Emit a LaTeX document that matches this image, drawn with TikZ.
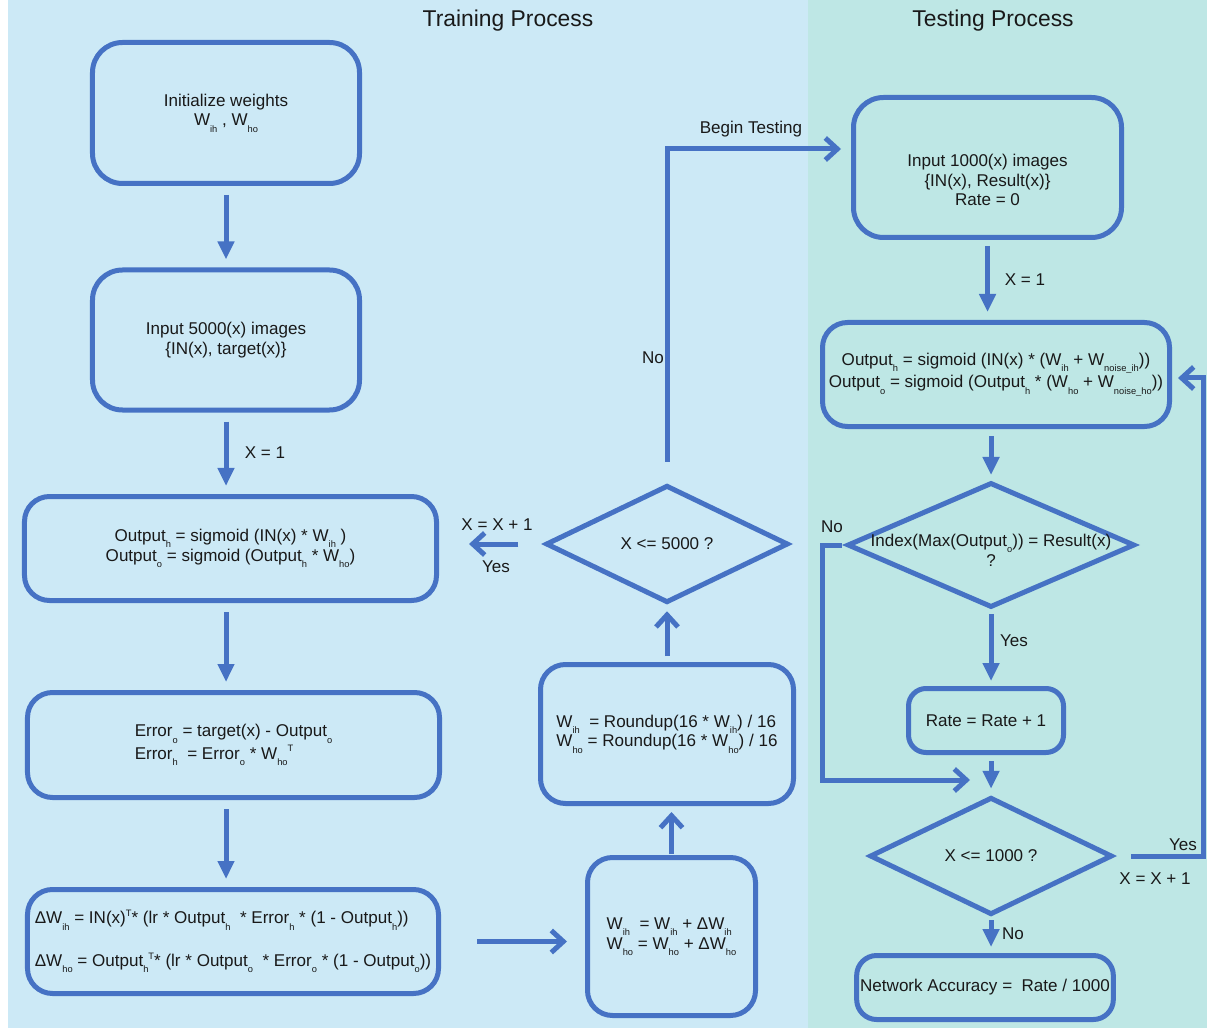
\documentclass[tikz,border=0pt]{standalone}
\usepackage{fontspec}
\setmainfont{Liberation Sans}
\usetikzlibrary{shapes.geometric,arrows.meta,positioning}

\definecolor{trainbg}{RGB}{204,233,246}
\definecolor{testbg}{RGB}{190,231,229}
\definecolor{flowblue}{RGB}{70,114,196}
\definecolor{inktext}{RGB}{25,25,25}

% small lowered / raised indices as printed in the chart
\newcommand{\sbs}[1]{\raisebox{-0.7ex}{\fontsize{5.3}{5.3}\selectfont #1}}
\newcommand{\sps}[1]{\raisebox{0.85ex}{\fontsize{5.3}{5.3}\selectfont #1}}

\tikzset{
  procbox/.style={draw=flowblue, line width=1mm, rounded corners=5mm, align=center,
    text=inktext, font=\fontsize{9.7}{11.3}\selectfont, inner sep=2pt},
  decbox/.style={draw=flowblue, line width=1mm, diamond, inner sep=0pt},
  flowdown/.style={draw=flowblue, line width=1mm, -{Triangle[length=3.6mm,width=3.2mm]}},
  flowbarb/.style={draw=flowblue, line width=1mm, -{Straight Barb[length=2.4mm,width=4.4mm]}},
  flowlabel/.style={text=inktext, font=\fontsize{9.7}{11.3}\selectfont, align=center},
  paneltitle/.style={text=inktext, font=\fontsize{13}{15}\selectfont}
}

\begin{document}
\begin{tikzpicture}[x=0.2mm, y=-0.2mm]
% Canvas and the two panels
\useasboundingbox (0,0) rectangle (1207,1028);
\fill[white] (0,0) rectangle (1207,1028);
\fill[trainbg] (8,0) rectangle (808,1028);
\fill[testbg] (808,0) rectangle (1207,1028);
\node[paneltitle] (traintitle) at (508,21) {Training Process};
\node[paneltitle] (testtitle) at (993,21) {Testing Process};

% Training column
\node[procbox, minimum width=5.34cm, minimum height=2.82cm, rounded corners=6mm] (init) at (226,113)
  {Initialize weights\\ W\sbs{ih} , W\sbs{ho}};
\node[procbox, minimum width=5.34cm, minimum height=2.80cm, rounded corners=6mm] (input) at (226,340)
  {Input 5000(x) images\\ \{IN(x), target(x)\}};
\node[procbox, minimum width=8.24cm, minimum height=2.08cm] (output) at (230.5,548.5)
  {Output\sbs{h} = sigmoid (IN(x) * W\sbs{ih} )\\ Output\sbs{o} = sigmoid (Output\sbs{h} * W\sbs{ho})};
\node[procbox, align=left, minimum width=8.24cm, minimum height=2.10cm] (error) at (233.5,745)
  {Error\sbs{o} = target(x) - Output\sbs{o}\\ Error\sbs{h} \ = Error\sbs{o} * W\sbs{ho}\sps{T}};
\node[procbox, align=left, minimum width=8.22cm, minimum height=2.08cm] (delta) at (233,941.5)
  {ΔW\sbs{ih} = IN(x)\sps{T}* (lr * Output\sbs{h} \ * Error\sbs{h} * (1 - Output\sbs{h}))\\[11.7pt]
   ΔW\sbs{ho} = Output\sbs{h}\sps{T}* (lr * Output\sbs{o} \ * Error\sbs{o} * (1 - Output\sbs{o}))};

% Weight update and quantisation
\node[procbox, align=left, minimum width=3.36cm, minimum height=3.16cm] (update) at (671.5,936.5)
  {W\sbs{ih} \ = W\sbs{ih} + ΔW\sbs{ih}\\ W\sbs{ho} = W\sbs{ho} + ΔW\sbs{ho}};
\node[procbox, align=left, minimum width=5.06cm, minimum height=2.78cm] (roundup) at (667,734)
  {W\sbs{ih} \ = Roundup(16 * W\sbs{ih}) / 16\\ W\sbs{ho} = Roundup(16 * W\sbs{ho}) / 16};
\node[decbox, minimum width=4.85cm, minimum height=2.35cm] (d5000) at (667,544) {};
\node[flowlabel] (d5000txt) at (d5000.center) {X <= 5000 ?};

% Testing column
\node[procbox, minimum width=5.36cm, minimum height=2.80cm, rounded corners=6mm] (tin) at (987.5,167.5) {};
\node[flowlabel] (tintxt) at (987.5,180) {Input 1000(x) images\\ \{IN(x), Result(x)\}\\ Rate = 0};
\node[procbox, minimum width=6.94cm, minimum height=2.08cm] (tout) at (996,374.5)
  {Output\sbs{h} = sigmoid (IN(x) * (W\sbs{ih} + W\sbs{noise\_ih}))\\
   Output\sbs{o} = sigmoid (Output\sbs{h} * (W\sbs{ho} + W\sbs{noise\_ho}))};
\node[decbox, minimum width=5.75cm, minimum height=2.50cm] (didx) at (991,545) {};
\node[flowlabel] (didxtxt) at ([yshift=-0.1cm]didx.center) {Index(Max(Output\sbs{o})) = Result(x)\\ ?};
\node[procbox, minimum width=3.10cm, minimum height=1.28cm, rounded corners=3.5mm] (rate) at (986,720.5)
  {Rate = Rate + 1};
\node[decbox, minimum width=4.85cm, minimum height=2.35cm] (d1000) at (991,856) {};
\node[flowlabel] (d1000txt) at (d1000.center) {X <= 1000 ?};
\node[procbox, minimum width=5.06cm, minimum height=1.28cm, rounded corners=4mm] (na) at (985,987.5)
  {Network Accuracy = \ Rate / 1000};

% Helper coordinates for the loop-back lines
\coordinate (nocol) at (822,0);
\coordinate (noend) at (970,780);
\coordinate (yescol) at (1203,0);

% Training arrows
\foreach \a/\b in {init/input,output/error,error/delta}
  \draw[flowdown, shorten <=0.18cm, shorten >=0.16cm] (\a.south -| init.south) -- (\b.north -| init.south);
\draw[flowdown, shorten <=0.18cm, shorten >=0.16cm] (input.south) -- (input.south |- output.north);
\draw[flowbarb, shorten <=0.72cm, shorten >=0.36cm] (delta.east) -- (delta.east -| update.west);
\draw[flowbarb, shorten <=0.02cm, shorten >=0.12cm] (update.north) -- (update.north |- roundup.south);
\draw[flowbarb, shorten <=0.12cm, shorten >=0.12cm] (roundup.north) -- (d5000.south);
\draw[flowbarb, shorten <=0.5cm, shorten >=0.6cm] (d5000.west) -- (d5000.west -| output.east);
\draw[flowbarb, shorten <=0.42cm, shorten >=0.2cm] (d5000.north) |- ([yshift=0.37cm]tin.west);

% Testing arrows
\draw[flowdown, shorten <=0.12cm, shorten >=0.16cm] (tin.south) -- (tin.south |- tout.north);
\draw[flowdown, shorten <=0.14cm, shorten >=0.1cm] (didx.north |- tout.south) -- (didx.north);
\draw[flowdown, shorten <=0.08cm, shorten >=0.1cm] (didx.south) -- (didx.south |- rate.north);
\draw[flowdown, shorten <=0.12cm, shorten >=0.12cm] (rate.south -| d1000.north) -- (d1000.north);
\draw[flowdown, shorten <=0.06cm, shorten >=0.12cm] (d1000.south) -- (na.north -| d1000.south);
\draw[flowbarb, shorten <=0.06cm] (didx.west) -- (didx.west -| nocol) |- (noend);
\draw[flowbarb, shorten <=0.32cm, shorten >=0.12cm] (d1000.east) -- (d1000.east -| yescol) |- ([yshift=-0.07cm]tout.east);

% Connector labels
\node[flowlabel] (lblx1) at (265,453) {X = 1};
\node[flowlabel] (lblinc) at (497,525) {X = X + 1};
\node[flowlabel] (lblyes) at (496,567) {Yes};
\node[flowlabel] (lblno) at (653,358) {No};
\node[flowlabel] (lblbegin) at (751,129) {Begin Testing};
\node[flowlabel] (lbltx1) at (1025,280) {X = 1};
\node[flowlabel] (lbltno) at (832,527) {No};
\node[flowlabel] (lbltyes) at (1014,641) {Yes};
\node[flowlabel] (lblloopyes) at (1183,845) {Yes};
\node[flowlabel] (lblloopinc) at (1155,879) {X = X + 1};
\node[flowlabel] (lblendno) at (1013,934) {No};
\end{tikzpicture}
\end{document}
